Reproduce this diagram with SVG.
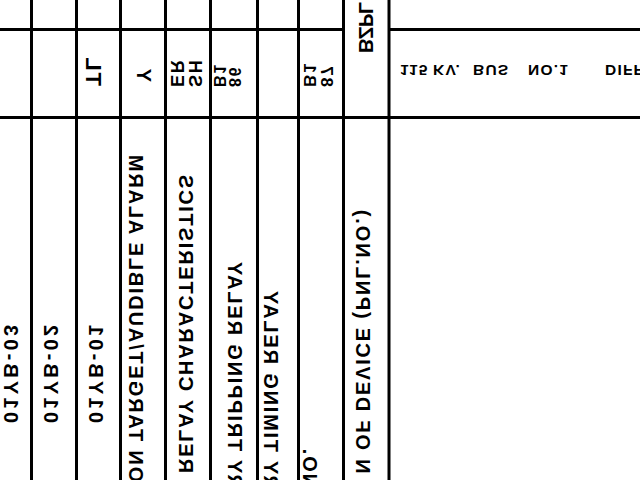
<svg xmlns="http://www.w3.org/2000/svg" width="640" height="480" viewBox="0 0 640 480">
<style>
.ln{stroke:#000;stroke-width:3;fill:none}
.t{font-family:"Liberation Sans",Arial,sans-serif;font-weight:bold;font-size:20px;fill:#000;letter-spacing:1.8px}
.h{font-family:"Liberation Sans",Arial,sans-serif;font-weight:bold;font-size:15.5px;fill:#000;letter-spacing:1.2px}
</style>
<rect width="640" height="480" fill="#fff"/>
<g id="grid">
<line class="ln" x1="0" y1="29.5" x2="343.5" y2="29.5"/>
<line class="ln" x1="389" y1="29.5" x2="640" y2="29.5"/>
<line class="ln" x1="0" y1="117.5" x2="640" y2="117.5"/>
<line class="ln" x1="31.5" y1="0" x2="31.5" y2="480"/>
<line class="ln" x1="76.5" y1="0" x2="76.5" y2="480"/>
<line class="ln" x1="120.5" y1="0" x2="120.5" y2="480"/>
<line class="ln" x1="165.5" y1="0" x2="165.5" y2="480"/>
<line class="ln" x1="210.5" y1="0" x2="210.5" y2="480"/>
<line class="ln" x1="257.5" y1="0" x2="257.5" y2="480"/>
<line class="ln" x1="298.5" y1="0" x2="298.5" y2="480"/>
<line class="ln" x1="343.5" y1="0" x2="343.5" y2="480"/>
<line class="ln" x1="389" y1="0" x2="389" y2="480"/>
</g>
<g id="column-titles">
<text class="t" transform="matrix(0,-1,-1,0,4,423)" textLength="100">01YB-03</text>
<text class="t" transform="matrix(0,-1,-1,0,44,423)" textLength="100">01YB-02</text>
<text class="t" transform="matrix(0,-1,-1,0,89,423)" textLength="100">01YB-01</text>
<text class="t" transform="matrix(0,-1,-1,0,129,153)" text-anchor="end">ION TARGET/AUDIBLE ALARM</text>
<text class="t" transform="matrix(0,-1,-1,0,179,173)" text-anchor="end">S RELAY CHARACTERISTICS</text>
<text class="t" transform="matrix(0,-1,-1,0,228,260)" text-anchor="end">RY TRIPPING RELAY</text>
<text class="t" transform="matrix(0,-1,-1,0,264,289)" text-anchor="end">RY TIMING RELAY</text>
<text class="t" transform="matrix(0,-1,-1,0,303,447)" text-anchor="end">NO.</text>
<text class="t" transform="matrix(0,-1,-1,0,356,208)" text-anchor="end">N OF DEVICE (PNL.NO.)</text>
</g>
<g id="row-entries">
<text class="t" transform="matrix(0,-1,-1,0,359,53)" textLength="53">BZPL</text>
<text class="t" style="font-size:22px" transform="matrix(0,-1,-1,0,86,86)">TL</text>
<text class="t" transform="matrix(0,-1,-1,0,137,82)">Y</text>
<text class="t" style="font-size:18px" transform="matrix(0,-1,-1,0,171,87)">ER</text>
<text class="t" style="font-size:18px" transform="matrix(0,-1,-1,0,189,87)">SH</text>
<text class="t" style="font-size:16px" transform="matrix(0,-1,-1,0,214,87)">B1</text>
<text class="t" style="font-size:16px" transform="matrix(0,-1,-1,0,229,87)">86</text>
<text class="t" style="font-size:17px" transform="matrix(0,-1,-1,0,304,87)">B1</text>
<text class="t" style="font-size:17px" transform="matrix(0,-1,-1,0,321,87)">87</text>
<text class="h" transform="matrix(1,0,0,-1,400,65)"><tspan x="0">115</tspan><tspan x="33">KV.</tspan><tspan x="73">BUS</tspan><tspan x="128">NO.1</tspan><tspan x="205">DIFF</tspan></text>
</g>
</svg>
